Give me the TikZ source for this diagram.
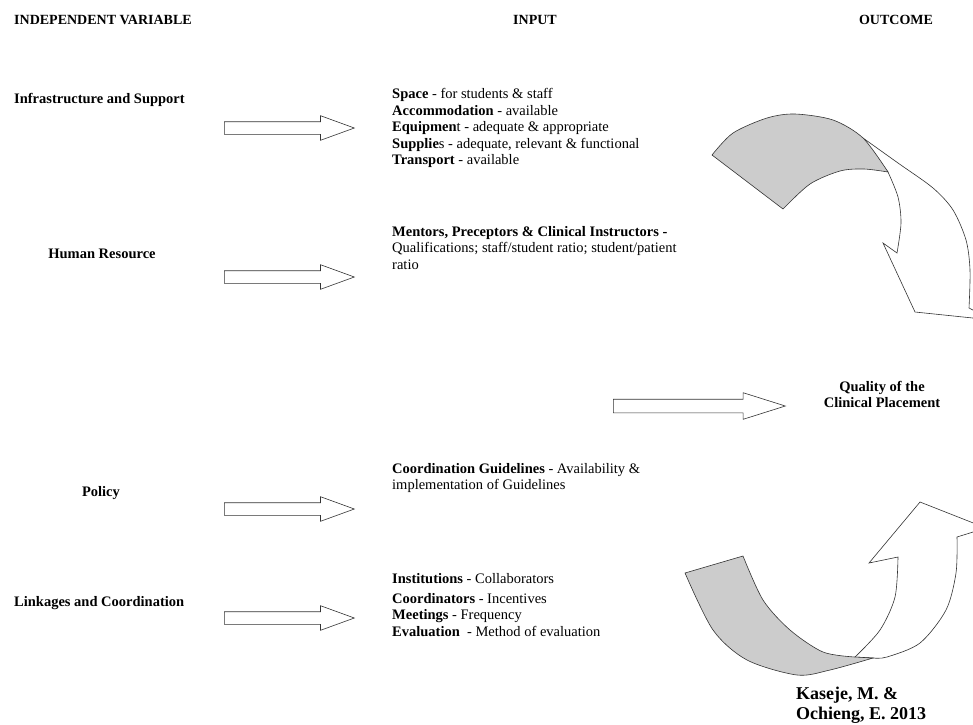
\documentclass[tikz,border=0pt]{standalone}
\usepackage{fontspec}
\setmainfont{Liberation Serif}
\usetikzlibrary{shapes.arrows}
\begin{document}
\begin{tikzpicture}[x=1pt,y=-1pt,
	colhead/.style={font=\bfseries\fontsize{14}{16}\selectfont, anchor=base, inner sep=0pt},
	cause/.style={font=\bfseries\fontsize{14.5}{16.5}\selectfont, anchor=base, inner sep=0pt},
	inputtext/.style={font=\fontsize{14.5}{16.5}\selectfont, align=left, anchor=north west, inner sep=0pt},
	blockarrow/.style={single arrow, draw=black!80, fill=white, line width=0.6pt, inner xsep=0pt, inner ysep=6pt,
		single arrow head extend=6pt, single arrow tip angle=40, minimum height=130pt, anchor=tail},
	ribbon/.style={draw=black!80, line width=0.6pt}]
	\useasboundingbox (0,0) rectangle (973,724);
	\clip (0,0) rectangle (973,724);

	\node[colhead, anchor=base west] (iv) at (14,24) {INDEPENDENT VARIABLE};
	\node[colhead] (inp) at (535,24) {INPUT};
	\node[colhead] (out) at (896,24) {OUTCOME};

	\node[cause, anchor=base west] (infra) at (14,103) {Infrastructure and Support};
	\node[cause] (hr) at (102,258) {Human Resource};
	\node[cause] (pol) at (101,496) {Policy};
	\node[cause, anchor=base west] (link) at (14,606) {Linkages and Coordination};

	\node[blockarrow] (a1) at (224,128) {};
	\node[blockarrow] (a2) at (224,277) {};
	\node[blockarrow] (a3) at (224,509) {};
	\node[blockarrow] (a4) at (224,618) {};
	\node[blockarrow, inner ysep=6.5pt, single arrow head extend=6.5pt, single arrow tip angle=35, minimum height=172pt] (amid) at (613,406) {};

	\node[inputtext] (space) at (392,88.5) {\textbf{Space} - for students \& staff\\ \textbf{Accommodation} - available\\ \textbf{Equipmen}t - adequate \& appropriate\\ \textbf{Supplie}s - adequate, relevant \& functional\\ \textbf{Transport} - available};
	\node[inputtext] (mentors) at (392,226) {\textbf{Mentors, Preceptors \& Clinical Instructors -}\\ Qualifications; staff/student ratio; student/patient\\ ratio};
	\node[inputtext] (guide) at (392,463) {\textbf{Coordination Guidelines} - Availability \&\\ implementation of Guidelines};
	\node[inputtext] (inst) at (392,573.5) {\textbf{Institutions} - Collaborators\\[3pt] \textbf{Coordinators} - Incentives\\ \textbf{Meetings} - Frequency\\ \textbf{Evaluation}\ \ - Method of evaluation};

	\node[cause, align=center, anchor=north] (qual) at (882,381) {Quality of the\\ Clinical Placement};
	\node[font=\bfseries\fontsize{18}{20}\selectfont, align=left, anchor=north west, inner sep=0pt] (src) at (796,687) {Kaseje, M. \&\\ Ochieng, E. 2013};

	\draw[ribbon, fill=white] plot[smooth] coordinates {(863,138) (898,163) (933,188) (953,210) (966,240) (970,270) (969,308)} -- (992,320) -- (915,312) -- (883,243) -- plot[smooth] coordinates {(897,253) (901,223) (898,197) (888,172)} -- cycle;
	\filldraw[ribbon, fill=gray!40] plot[smooth] coordinates {(712,155) (733,133) (767,118) (795,114) (833,120) (863,138) (888,172)} -- plot[smooth] coordinates {(888,172) (864,169) (840,171) (810,184) (783,209)} -- cycle;

	\draw[ribbon, fill=white] plot[smooth] coordinates {(855,657) (880,630) (895,597) (898,557)} -- (869,563) -- (920,502) -- (986,528) -- plot[smooth] coordinates {(957,537) (956,573) (946,610) (920,643) (887,657) (873,658)} -- cycle;
	\filldraw[ribbon, fill=gray!40] (743,556) -- plot[smooth] coordinates {(685,573) (713,630) (747,660) (797,675) (830,670) (873,658)} -- plot[smooth] coordinates {(855,657) (823,652) (790,630) (763,600) (743,556)} -- cycle;
\end{tikzpicture}
\end{document}
